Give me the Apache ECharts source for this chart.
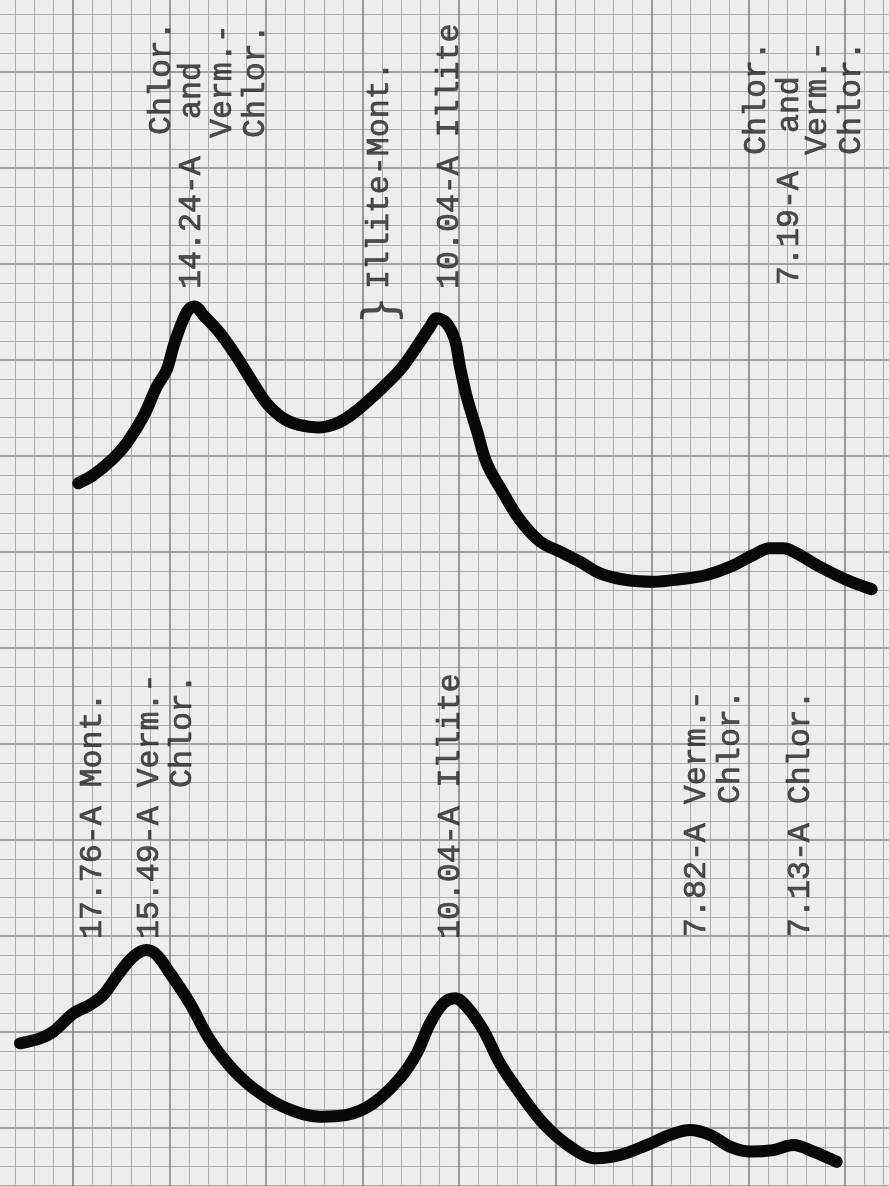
<!DOCTYPE html>
<html>
<head>
<meta charset="utf-8">
<title>X-ray diffraction traces</title>
<script src="https://cdn.jsdelivr.net/npm/echarts@6/dist/echarts.min.js"></script>
<style>
  html, body { margin: 0; padding: 0; background: #ededed; }
  #main { width: 889px; height: 1186px; }
</style>
</head>
<body>
<div id="main"></div>
<script>
// traces, in grid cells (x to the right, y upward)
var upperX = [5.27, 6.05, 7.09, 7.78, 8.64, 9.34, 9.85, 10.20, 10.63, 10.97, 11.32, 11.75, 12.62, 13.48, 14.34, 15.04, 15.90, 16.76, 17.71, 18.66, 19.52, 20.91, 21.94, 22.81, 23.50, 23.84, 24.36, 24.79, 25.05, 25.40, 25.92, 26.44, 27.30, 28.16, 29.20, 30.23, 31.27, 32.31, 33.69, 35.07, 36.45, 37.83, 39.04, 40.25, 41.11, 41.80, 42.50, 43.70, 45.09, 46.38];
var upperY = [38.58, 39.01, 39.88, 40.66, 42.05, 43.61, 44.48, 45.69, 46.91, 47.60, 47.78, 47.34, 46.39, 45.17, 43.79, 42.74, 41.96, 41.61, 41.49, 41.70, 42.22, 43.44, 44.48, 45.69, 46.73, 47.17, 46.91, 46.04, 44.65, 43.09, 41.35, 39.62, 38.06, 36.67, 35.54, 35.02, 34.49, 33.89, 33.54, 33.45, 33.58, 33.80, 34.23, 34.84, 35.19, 35.19, 34.93, 34.23, 33.54, 33.06];

var lowerX = [2.25, 3.29, 3.98, 5.02, 5.88, 6.57, 7.26, 8.12, 8.82, 9.34, 10.03, 11.06, 12.10, 13.31, 14.69, 16.07, 17.80, 19.18, 20.56, 21.94, 22.81, 23.50, 24.19, 24.79, 25.40, 26.26, 27.12, 28.16, 29.37, 30.75, 32.13, 33.34, 34.73, 35.93, 36.97, 38.01, 39.04, 40.08, 41.28, 42.32, 43.36, 44.57];
var lowerY = [9.41, 9.67, 10.02, 10.97, 11.41, 11.93, 12.88, 13.92, 14.27, 14.01, 13.06, 11.49, 9.58, 8.02, 6.81, 6.03, 5.59, 5.68, 6.29, 7.60, 8.89, 10.45, 11.49, 11.76, 11.32, 10.10, 8.37, 6.81, 5.24, 4.03, 3.42, 3.59, 4.11, 4.64, 4.90, 4.64, 4.03, 3.77, 3.85, 4.11, 3.77, 3.24];

// typed notes: one entry per typed line, anchored where the line starts
var noteText = ['Chlor.', '14.24-A', 'and', 'Verm.-', 'Chlor.',
  'Illite-Mont.', '10.04-A Illite',
  'Chlor.', '7.19-A', 'and', 'Verm.-', 'Chlor.',
  '17.76-A Mont.', '15.49-A Verm.-', 'Chlor.', '10.04-A Illite',
  '7.82-A Verm.-', 'Chlor.', '7.13-A Chlor.'];
var noteX = [9.61, 11.17, 11.17, 12.77, 14.48,
  20.91, 24.53,
  40.44, 42.15, 42.15, 43.60, 45.36,
  6.04, 8.99, 10.70, 24.59,
  37.33, 39.09, 42.72];
var noteY = [56.72, 48.70, 57.55, 56.56, 56.56,
  48.70, 48.70,
  55.68, 48.91, 56.82, 55.68, 55.68,
  14.84, 14.84, 22.71, 14.84,
  14.95, 21.88, 14.95];

var braceX = [21.06];
var braceY = [47.6];

function zip(xs, ys) {
  return xs.map(function (x, i) { return [x, ys[i]]; });
}

var myChart = echarts.init(document.getElementById('main'));

var paperAxis = {
  type: 'value',
  min: 0,
  interval: 5,
  axisLine: { show: false },
  axisTick: { show: false },
  axisLabel: { show: false },
  splitLine: { show: true, lineStyle: { color: '#858585', width: 1.6 } },
  minorTick: { show: false, splitNumber: 5 },
  minorSplitLine: { show: true, lineStyle: { color: '#ababab', width: 1 } }
};

var traceStyle = {
  type: 'line',
  smooth: 0.35,
  showSymbol: false,
  symbol: 'none',
  lineStyle: { color: '#080808', width: 12, cap: 'round', join: 'round' }
};

var notes = noteText.map(function (t, i) {
  return { name: t, value: [noteX[i], noteY[i]] };
});

myChart.setOption({
  backgroundColor: '#ededed',
  animation: false,
  // the paper runs past the edges of the page, so let the grid do so too
  grid: { left: -23.5, top: -24, width: 965, height: 1248, outerBoundsMode: 'none', containLabel: false },
  xAxis: Object.assign({}, paperAxis, { max: 50 }),
  yAxis: Object.assign({}, paperAxis, { max: 65 }),
  series: [
    Object.assign({ name: 'upper', data: zip(upperX, upperY) }, traceStyle),
    Object.assign({ name: 'lower', data: zip(lowerX, lowerY) }, traceStyle),
    {
      name: 'notes',
      type: 'scatter',
      symbolSize: 0,
      data: notes,
      label: {
        show: true,
        position: 'inside',
        rotate: 90,
        align: 'left',
        verticalAlign: 'middle',
        formatter: '{b}',
        fontFamily: '"Liberation Mono", monospace',
        fontSize: 31.6,
        color: '#262626',
        textBorderColor: '#262626',
        textBorderWidth: 0.7
      }
    },
    {
      name: 'brace',
      type: 'scatter',
      symbolSize: 0,
      data: zip(braceX, braceY),
      label: {
        show: true,
        position: 'inside',
        rotate: 90,
        align: 'center',
        verticalAlign: 'middle',
        formatter: '}',
        fontFamily: '"DejaVu Sans", sans-serif',
        fontSize: 46,
        color: '#222'
      }
    }
  ]
});
</script>
</body>
</html>
